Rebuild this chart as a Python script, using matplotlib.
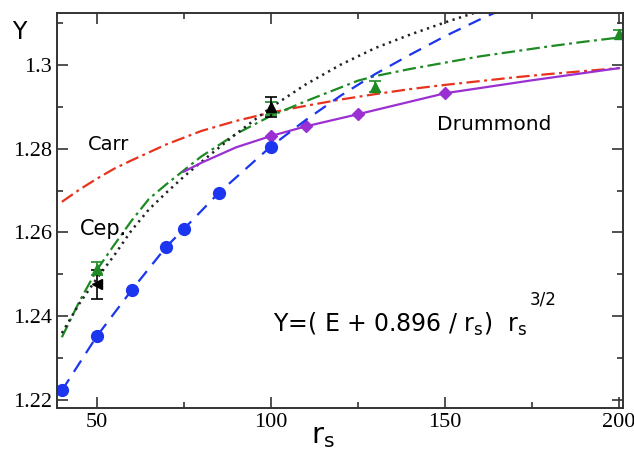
import matplotlib
matplotlib.use('Agg')
import matplotlib.pyplot as plt
from matplotlib.ticker import MultipleLocator

# данные
rs_blue = [40, 50, 60, 70, 75, 85, 100, 110, 120, 130, 140, 150, 160, 170]
y_blue = [1.2223, 1.2352, 1.2462, 1.2566, 1.2608, 1.2694, 1.2805, 1.2868,
          1.2926, 1.2978, 1.3024, 1.3068, 1.3108, 1.3145]
rs_blue_pts = [40, 50, 60, 70, 75, 85, 100]
y_blue_pts = [1.2223, 1.2352, 1.2462, 1.2566, 1.2608, 1.2694, 1.2805]

rs_carr = [40, 45, 50, 55, 60, 70, 80, 90, 100, 110, 120, 130, 140, 150,
           160, 170, 180, 190, 200]
y_carr = [1.2673, 1.2702, 1.2728, 1.2752, 1.2772, 1.2810, 1.2842, 1.2866,
          1.2886, 1.2902, 1.2917, 1.2930, 1.2942, 1.2952, 1.2961, 1.2970,
          1.2978, 1.2985, 1.2992]

rs_cep = [40, 45, 50, 55, 60, 65, 70, 75, 80, 90, 100, 110, 125, 130, 140,
          150, 160, 170, 180, 190, 200]
y_cep = [1.2350, 1.2435, 1.2510, 1.2570, 1.2628, 1.2680, 1.2715, 1.2748,
         1.2781, 1.2835, 1.2878, 1.2913, 1.2962, 1.2973, 1.2990, 1.3005,
         1.3020, 1.3032, 1.3044, 1.3055, 1.3065]

rs_dot = [40, 45, 50, 55, 60, 65, 70, 75, 80, 90, 100, 110, 120, 130, 140,
          150, 160]
y_dot = [1.2360, 1.2430, 1.2490, 1.2545, 1.2605, 1.2655, 1.2695, 1.2733,
         1.2768, 1.2835, 1.2898, 1.2953, 1.3000, 1.3040, 1.3072, 1.3101,
         1.3128]

rs_drum = [75, 80, 90, 100, 110, 125, 150, 175, 200]
y_drum = [1.2745, 1.2766, 1.2803, 1.2830, 1.2853, 1.2882, 1.2932, 1.2963,
          1.2992]
rs_drum_pts = [100, 110, 125, 150]
y_drum_pts = [1.2830, 1.2853, 1.2882, 1.2932]

rs_green_pts = [50, 100, 130, 200]
y_green_pts = [1.2514, 1.2896, 1.2948, 1.3074]
err_green = [0.0015, 0.0015, 0.0014, 0.0010]

rs_black_pts = [50, 100]
y_black_pts = [1.2476, 1.2900]
err_black = [0.0035, 0.0024]

fig = plt.figure(figsize=(6.34, 4.57), dpi=100)
ax = fig.add_axes([0.0899, 0.107, 0.892, 0.865])

blue = '#1c35ee'
red = '#e8321c'
green = '#1d8a24'
purple = '#9a2fd2'

ax.plot(rs_carr, y_carr, color=red, lw=1.6, dashes=(6, 2, 1.3, 2))
ax.plot(rs_cep, y_cep, color=green, lw=1.6, dashes=(6, 2, 1.3, 2))
ax.plot(rs_dot, y_dot, color='#222222', lw=1.8, dashes=(0.9, 1.8))
ax.plot(rs_drum, y_drum, color=purple, lw=1.6)
ax.plot(rs_drum_pts, y_drum_pts, 'D', color=purple, ms=6.5)
ax.plot(rs_blue, y_blue, color=blue, lw=1.6, dashes=(6, 4))
ax.plot(rs_blue_pts, y_blue_pts, 'o', color=blue, ms=8.5)

ax.errorbar(rs_green_pts, y_green_pts, yerr=err_green, fmt='^', color=green,
            ms=7, capsize=4, elinewidth=1.2, capthick=1.2)
ax.errorbar(rs_black_pts[:1], y_black_pts[:1], yerr=err_black[:1], fmt='<',
            color='black', ms=7, capsize=4, elinewidth=1.2, capthick=1.2)
ax.errorbar(rs_black_pts[1:], y_black_pts[1:], yerr=err_black[1:], fmt='^',
            color='black', ms=7, capsize=4, elinewidth=1.2, capthick=1.2)

ax.set_xlim(38.6, 201)
ax.set_ylim(1.2181, 1.3124)
ax.xaxis.set_major_locator(MultipleLocator(50))
ax.xaxis.set_minor_locator(MultipleLocator(25))
ax.yaxis.set_minor_locator(MultipleLocator(0.01))
ax.set_yticks([1.22, 1.24, 1.26, 1.28, 1.30])
ax.set_yticklabels(['1.22', '1.24', '1.26', '1.28', '1.3'])
ax.tick_params(which='both', direction='in', top=True, right=True,
               width=1.2, color='#333333', labelsize=16)
ax.tick_params(which='major', length=8)
ax.tick_params(which='minor', length=4.5)
for lab in ax.get_xticklabels() + ax.get_yticklabels():
    lab.set_fontfamily('Liberation Serif')
for s in ax.spines.values():
    s.set_linewidth(1.4)
    s.set_color('#333333')

# подписи в пикселях картинки
def px(x, y):
    return x / 634, 1 - y / 457

fig.text(*px(88, 150), 'Carr', fontsize=14, va='baseline')
fig.text(*px(80, 235), 'Cep.', fontsize=15, va='baseline')
fig.text(*px(437, 130), 'Drummond', fontsize=14.5, va='baseline')
fig.text(*px(273, 332),
         r'Y=( E + 0.896 / r$_\mathregular{s}$)  r$_\mathregular{s}$',
         fontsize=17, va='baseline')
fig.text(*px(530, 305), '3/2', fontsize=12, va='baseline')
fig.text(*px(12, 39), 'Y', fontsize=17, va='baseline')
fig.text(*px(311, 443), r'r$_\mathregular{s}$', fontsize=21, va='baseline')

fig.savefig('out.png', dpi=100)
